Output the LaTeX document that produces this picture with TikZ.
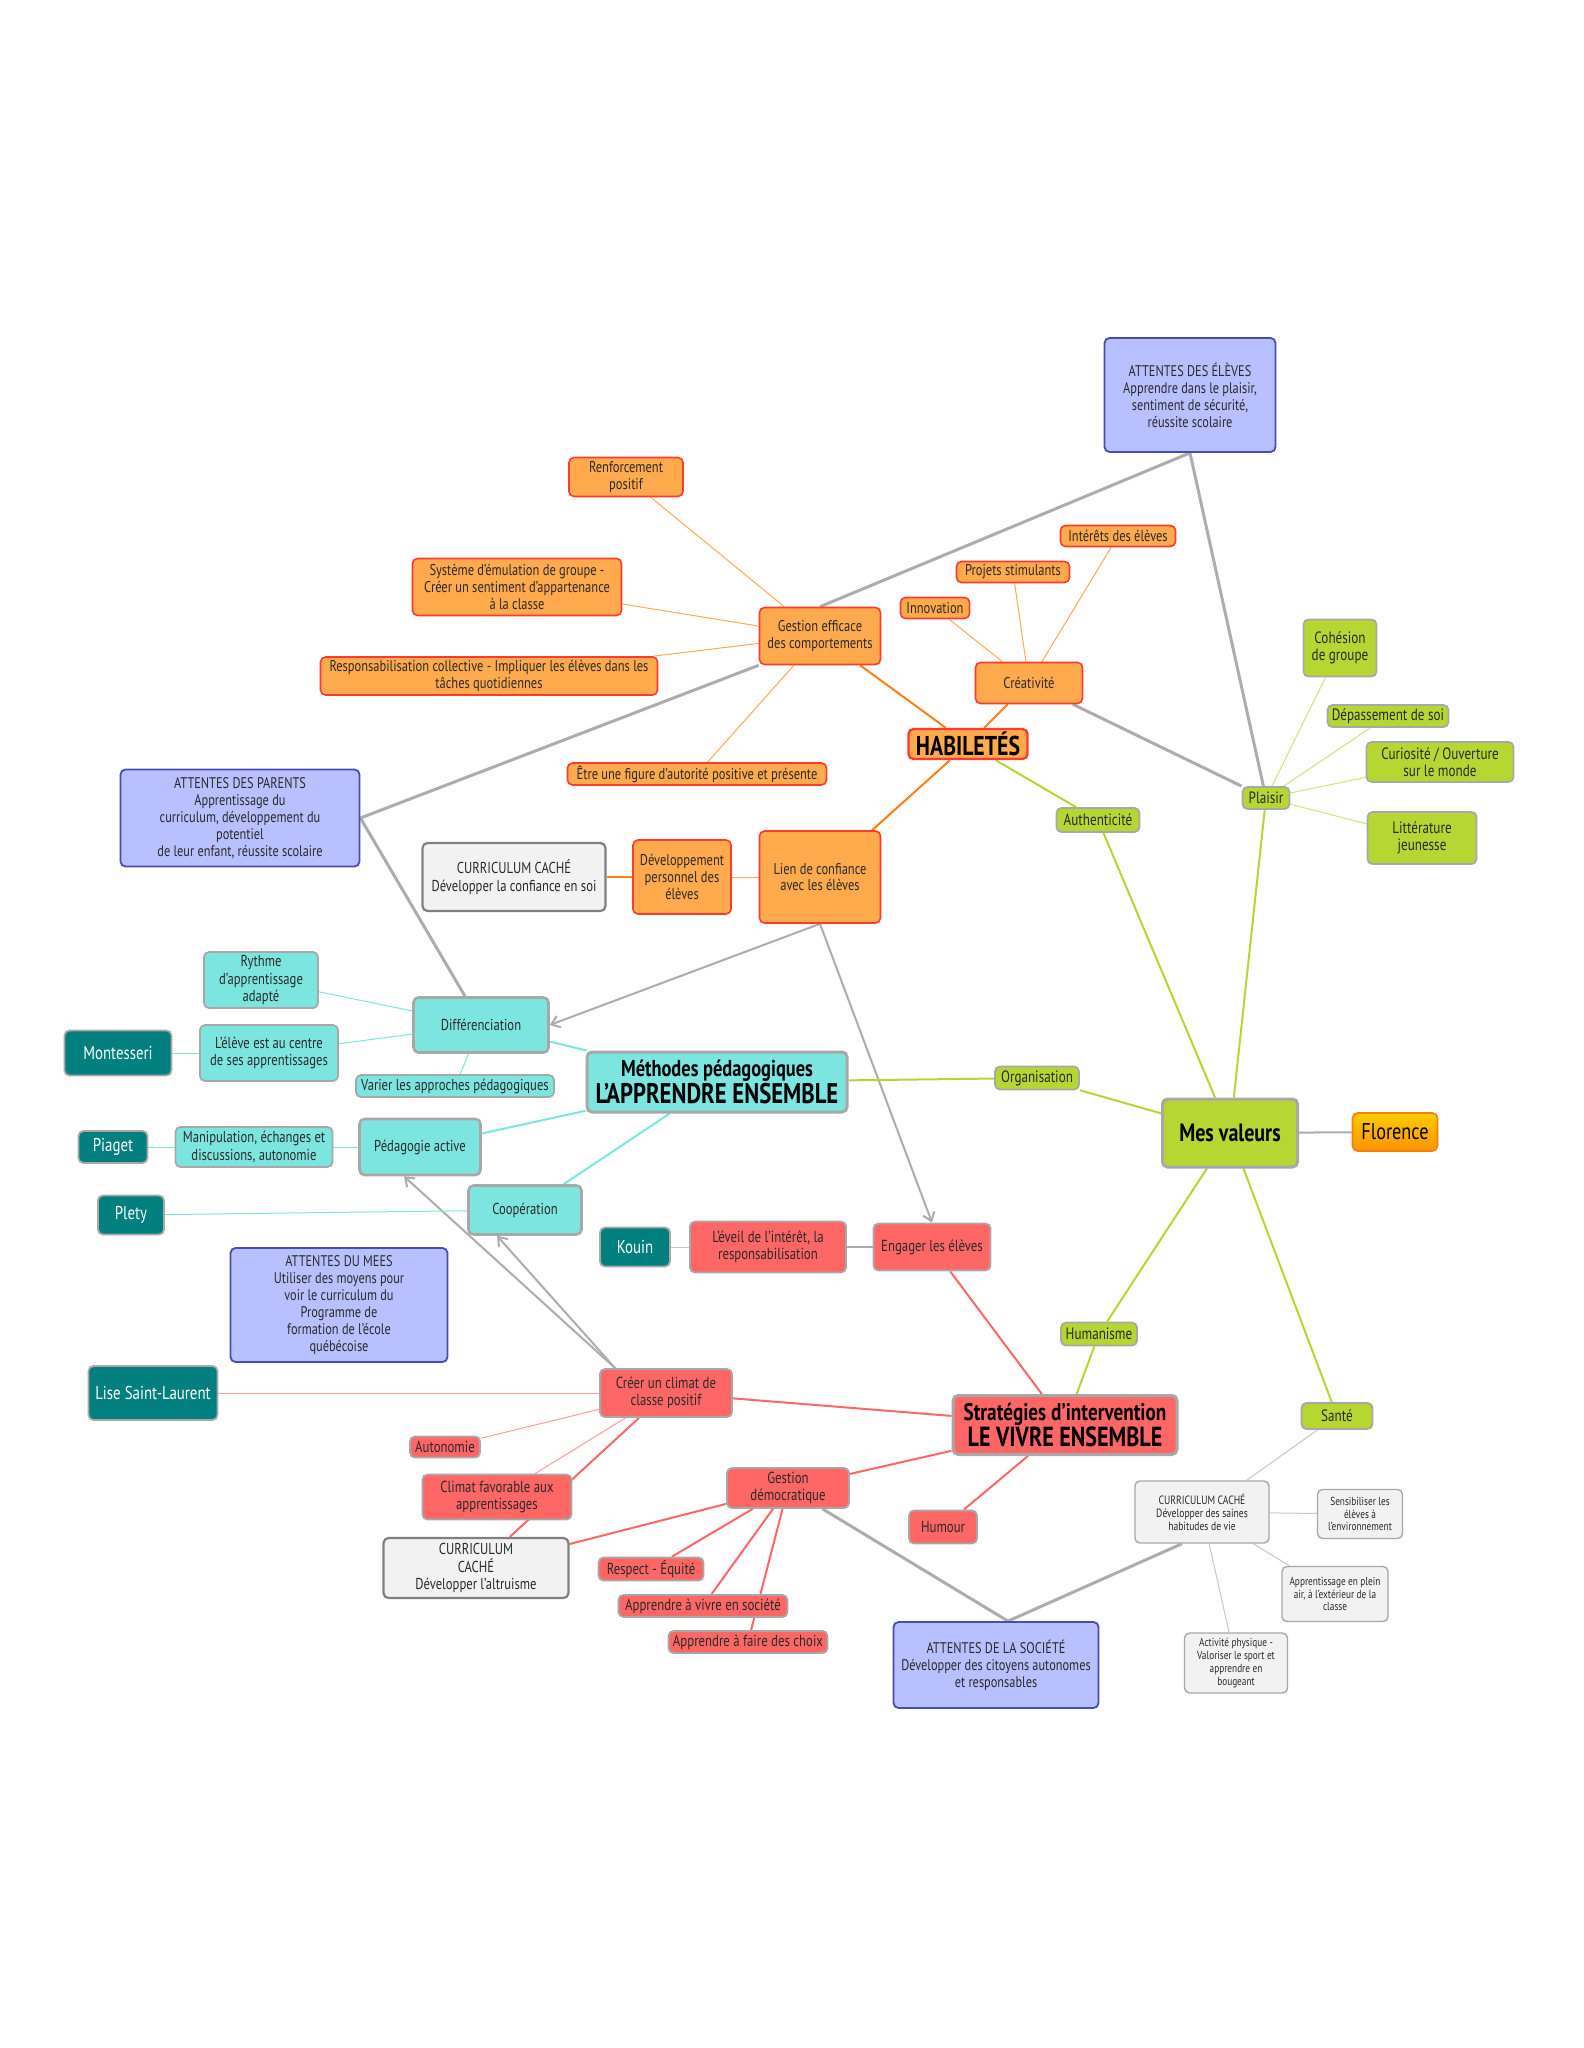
\documentclass[tikz,border=0pt]{standalone}
\usepackage{fontspec}
\setmainfont{PT Sans}[FakeStretch=0.8]
\usetikzlibrary{backgrounds,arrows.meta}
\definecolor{orfill}{HTML}{FFAA4D}
\definecolor{orline}{HTML}{FF3B30}
\definecolor{oredge}{HTML}{FF7F11}
\definecolor{orthin}{HTML}{FFAA55}
\definecolor{bfill}{HTML}{B8C0FF}
\definecolor{bline}{HTML}{4B4BB4}
\definecolor{gfill}{HTML}{B6D632}
\definecolor{gthin}{HTML}{CCE57A}
\definecolor{cfill}{HTML}{7DE5E0}
\definecolor{tfill}{HTML}{007F7F}
\definecolor{rfill}{HTML}{FF6666}
\definecolor{rthin}{HTML}{FF9C9C}
\definecolor{ccfill}{HTML}{F2F2F2}
\definecolor{bord}{HTML}{A8A8A8}
\definecolor{edge}{HTML}{ADADAD}
\definecolor{ink}{HTML}{2A2A2A}
\tikzstyle{box} = [rounded corners=2.5pt, align=center, inner sep=1pt, text=ink, font={\fontsize{7.8}{8.3}\selectfont}]
\tikzstyle{orn} = [box, draw=orline, fill=orfill, line width=0.8pt]
\tikzstyle{grn} = [box, draw=bord, fill=gfill, line width=0.9pt, font={\fontsize{8.2}{8.7}\selectfont}]
\tikzstyle{cyn} = [box, draw=bord, fill=cfill, line width=0.9pt, font={\fontsize{7.9}{8.6}\selectfont}]
\tikzstyle{rd} = [box, draw=bord, fill=rfill, line width=0.9pt, font={\fontsize{8}{8.6}\selectfont}]
\tikzstyle{tea} = [box, draw=bord, fill=tfill, line width=0.9pt, text=white, font={\fontsize{9.3}{10}\selectfont}]
\tikzstyle{blu} = [box, draw=bline, fill=bfill, line width=0.9pt, font={\fontsize{7.7}{8.5}\selectfont}]
\tikzstyle{hid} = [box, draw=gray, fill=ccfill, line width=1.1pt, font={\fontsize{7.9}{8.8}\selectfont}]
\tikzstyle{hidsm} = [box, draw=bord, fill=ccfill, line width=0.7pt, font={\fontsize{5.8}{6.4}\selectfont}]
\tikzstyle{big} = [line width=1.5pt, text=black, font={\bfseries\fontsize{11.5}{12}\selectfont}]
\tikzstyle{gline} = [draw=edge, line width=1.5pt]
\tikzstyle{gmid} = [draw=edge, line width=1pt]
\tikzstyle{gthinline} = [draw=edge!70, line width=0.5pt]
\tikzstyle{garrow} = [gmid, ->]
\tikzstyle{othick} = [draw=oredge, line width=1pt]
\tikzstyle{othin} = [draw=orthin, line width=0.5pt]
\tikzstyle{gr} = [draw=gfill, line width=1pt]
\tikzstyle{grthin} = [draw=gthin, line width=0.5pt]
\tikzstyle{cy} = [draw=cfill, line width=1pt]
\tikzstyle{cythin} = [draw=cfill, line width=0.5pt]
\tikzstyle{rdline} = [draw=rfill, line width=1pt]
\tikzstyle{rdthin} = [draw=rthin, line width=0.5pt]

\begin{document}
\begin{tikzpicture}[x=0.5pt, y=-0.5pt, >={Straight Barb[length=4pt,width=6pt]}]
    \useasboundingbox (0,0) rectangle (1583,2048);
    % HABILETES
    \node[orn,minimum width=57pt,minimum height=19.5pt](renf) at (626,477){Renforcement\\positif};
    \node[orn,minimum width=104.5pt,minimum height=28.5pt](syst) at (517,587){Système d’émulation de groupe -\\Créer un sentiment d’appartenance\\à la classe};
    \node[orn,minimum width=168.5pt,minimum height=19pt](resp) at (489,676){Responsabilisation collective - Impliquer les élèves dans les\\tâches quotidiennes};
    \node[orn,minimum width=60.5pt,minimum height=28.5pt](gest) at (820,636){Gestion efficace\\des comportements};
    \node[orn,minimum width=129.5pt,minimum height=11pt](etre) at (697,774){Être une figure d’autorité positive et présente};
    \node[orn,minimum width=34.5pt,minimum height=10.5pt](inno) at (935,608){Innovation};
    \node[orn,minimum width=56.5pt,minimum height=10.5pt](proj) at (1013,572){Projets stimulants};
    \node[orn,minimum width=57.5pt,minimum height=10.5pt](inte) at (1118,536){Intérêts des élèves};
    \node[orn,minimum width=53.5pt,minimum height=20.5pt](crea) at (1029,683){Créativité};
    \node[orn,big,line width=1.2pt,font={\bfseries\fontsize{13.6}{14}\selectfont},minimum width=59.5pt,minimum height=15pt](hab) at (968,744){HABILETÉS};
    \node[orn,minimum width=49pt,minimum height=37pt](dev) at (682,877){Développement\\personnel des\\élèves};
    \node[orn,minimum width=60.5pt,minimum height=46pt](lien) at (820,877){Lien de confiance\\avec les élèves};
    \node[hid,minimum width=91.5pt,minimum height=34pt](ccconf) at (514,877){CURRICULUM CACHÉ\\Développer la confiance en soi};
    % attentes
    \node[blu,minimum width=85.5pt,minimum height=57pt](aelev) at (1190,395){ATTENTES DES ÉLÈVES\\Apprendre dans le plaisir,\\sentiment de sécurité,\\réussite scolaire};
    \node[blu,minimum width=119.5pt,minimum height=48.5pt](apar) at (240,818){ATTENTES DES PARENTS\\Apprentissage du\\curriculum, développement du\\potentiel\\de leur enfant, réussite scolaire};
    \node[blu,minimum width=108.5pt,minimum height=57pt](amees) at (339,1305){ATTENTES DU MEES\\Utiliser des moyens pour\\voir le curriculum du\\Programme de\\formation de l’école\\québécoise};
    \node[blu,minimum width=102.5pt,minimum height=43pt](asoc) at (996,1665){ATTENTES DE LA SOCIÉTÉ\\Développer des citoyens autonomes\\et responsables};
    % valeurs
    \node[grn,minimum width=36.5pt,minimum height=28.5pt](cohe) at (1340,648){Cohésion\\de groupe};
    \node[grn,minimum width=60.5pt,minimum height=11pt](depa) at (1388,716){Dépassement de soi};
    \node[grn,minimum width=73.5pt,minimum height=20pt](curi) at (1440,762){Curiosité / Ouverture\\sur le monde};
    \node[grn,minimum width=23.5pt,minimum height=11pt](plai) at (1266,798){Plaisir};
    \node[grn,minimum width=54.5pt,minimum height=26pt](litt) at (1422,838){Littérature\\jeunesse};
    \node[grn,minimum width=41.5pt,minimum height=12pt](auth) at (1098,820){Authenticité};
    \node[grn,minimum width=42pt,minimum height=11.5pt](orga) at (1037,1078){Organisation};
    \node[grn,big,font={\bfseries\fontsize{12.5}{13}\selectfont},minimum width=67.5pt,minimum height=34pt](valeurs) at (1230,1133){Mes valeurs};
    \node[grn,minimum width=38pt,minimum height=11.5pt](huma) at (1099,1334){Humanisme};
    \node[grn,minimum width=35.5pt,minimum height=13pt](sante) at (1337,1416){Santé};
    \node[box,draw=orange!80!brown,top color=yellow!60!orange,bottom color=orange!85!yellow,line width=0.8pt,text=black,font={\fontsize{11.4}{12}\selectfont},minimum width=42.5pt,minimum height=19pt](flor) at (1395,1132){Florence};
    % methodes
    \node[cyn,big,minimum width=130pt,minimum height=30pt](meth) at (717,1082){Méthodes pédagogiques\\{\fontsize{14.2}{12}\selectfont L’APPRENDRE ENSEMBLE}};
    \node[cyn,line width=1.3pt,minimum width=67.5pt,minimum height=27.5pt](diff) at (481,1025){Différenciation};
    \node[cyn,minimum width=57pt,minimum height=28pt](ryth) at (261,980){Rythme\\d’apprentissage\\adapté};
    \node[cyn,minimum width=69pt,minimum height=28pt](centre) at (269,1053){L’élève est au centre\\de ses apprentissages};
    \node[cyn,minimum width=99pt,minimum height=11pt](vari) at (455,1086){Varier les approches pédagogiques};
    \node[cyn,minimum width=78.5pt,minimum height=20pt](manip) at (254,1147){Manipulation, échanges et\\discussions, autonomie};
    \node[cyn,line width=1.3pt,minimum width=60.5pt,minimum height=28pt](ped) at (420,1147){Pédagogie active};
    \node[cyn,line width=1.3pt,minimum width=56.5pt,minimum height=24.5pt](coop) at (525,1210){Coopération};
    \node[tea,minimum width=53.5pt,minimum height=22.5pt](mont) at (118,1053){Montesseri};
    \node[tea,minimum width=34.5pt,minimum height=16pt](piag) at (113,1147){Piaget};
    \node[tea,minimum width=33pt,minimum height=19.5pt](plet) at (131,1215){Plety};
    % strategies
    \node[tea,minimum width=35pt,minimum height=19.5pt](kouin) at (635,1247){Kouin};
    \node[tea,minimum width=64.5pt,minimum height=27pt](lise) at (153,1393){Lise Saint-Laurent};
    \node[rd,minimum width=78pt,minimum height=25.5pt](eveil) at (768,1247){L’éveil de l’intérêt, la\\responsabilisation};
    \node[rd,minimum width=58.5pt,minimum height=23.5pt](eng) at (932,1247){Engager les élèves};
    \node[rd,minimum width=66pt,minimum height=24pt](clim) at (666,1393){Créer un climat de\\classe positif};
    \node[rd,big,font={\bfseries\fontsize{12}{12}\selectfont},minimum width=112pt,minimum height=29.5pt](strat) at (1065,1425){Stratégies d’intervention\\{\fontsize{13.8}{12}\selectfont LE VIVRE ENSEMBLE}};
    \node[rd,minimum width=61pt,minimum height=20pt](gdem) at (788,1488){Gestion\\démocratique};
    \node[rd,minimum width=34pt,minimum height=16.5pt](hum) at (943,1527){Humour};
    \node[rd,minimum width=35pt,minimum height=10.5pt](auto) at (445,1447){Autonomie};
    \node[rd,minimum width=74.5pt,minimum height=22.5pt](climf) at (497,1497){Climat favorable aux\\apprentissages};
    \node[rd,minimum width=52.5pt,minimum height=11.5pt](equi) at (651,1569){Respect - Équité};
    \node[rd,minimum width=84.5pt,minimum height=11pt](vivre) at (703,1606){Apprendre à vivre en société};
    \node[rd,minimum width=79.5pt,minimum height=11pt](choix) at (748,1642){Apprendre à faire des choix};
    \node[hid,minimum width=92.5pt,minimum height=30pt](ccalt) at (476,1568){CURRICULUM\\CACHÉ\\Développer l’altruisme};
    \node[hidsm,font={\fontsize{6}{6.5}\selectfont},minimum width=67pt,minimum height=31pt](ccsain) at (1202,1512){CURRICULUM CACHÉ\\Développer des saines\\habitudes de vie};
    \node[hidsm,minimum width=42.5pt,minimum height=24.5pt](sens) at (1360,1514){Sensibiliser les\\élèves à\\l’environnement};
    \node[hidsm,minimum width=53pt,minimum height=27.5pt](plein) at (1335,1594){Apprentissage en plein\\air, à l’extérieur de la\\classe};
    \node[hidsm,minimum width=51.5pt,minimum height=30pt](acti) at (1236,1663){Activité physique -\\Valoriser le sport et\\apprendre en\\bougeant};
    \begin{scope}[on background layer]
    % gris
    \draw[gline](aelev.south)--(gest.north);
    \draw[gline](aelev.south)--(plai);
    \draw[gline](crea)--(plai);
    \draw[gline](apar.east)--(gest.south west);
    \draw[gline](apar.east)--([xshift=-8pt]diff.north);
    \draw[garrow](lien.south)--(diff.east);
    \draw[garrow](lien.south)--(eng.north);
    \draw[garrow]([xshift=8pt]clim.north west)--([xshift=-8pt]ped.south);
    \draw[garrow]([xshift=8pt]clim.north west)--([xshift=-14pt]coop.south);
    \draw[gline](gdem)--([xshift=6pt]asoc.north);
    \draw[gline]([xshift=-10pt]ccsain.south)--([xshift=6pt]asoc.north);
    \draw[gthinline](sante)--(ccsain);
    \draw[gthinline](ccsain)--(sens);
    \draw[gthinline](ccsain)--(plein);
    \draw[gthinline](ccsain)--(acti);
    \draw[gthinline](kouin)--(eveil);
    \draw[gmid](eveil)--(eng);
    \draw[gmid](valeurs)--(flor);
    % orange
    \draw[othick](hab)--(gest);
    \draw[othick](hab)--(crea);
    \draw[othick](hab)--(lien);
    \draw[othick](dev)--(ccconf);
    \draw[othin](lien)--(dev);
    \draw[othin](gest)--(renf);
    \draw[othin](gest)--(syst);
    \draw[othin](gest)--(resp);
    \draw[othin](gest)--(etre);
    \draw[othin](crea)--(inno);
    \draw[othin](crea)--(proj);
    \draw[othin](crea)--(inte);
    % vert
    \draw[gr](hab)--(auth);
    \draw[gr](auth)--(valeurs);
    \draw[gr](plai)--(valeurs);
    \draw[gr](orga)--(valeurs);
    \draw[gr](meth)--(orga);
    \draw[gr](valeurs)--(huma);
    \draw[gr](huma)--(strat);
    \draw[gr](valeurs)--(sante);
    \draw[grthin](plai)--(cohe);
    \draw[grthin](plai)--(depa);
    \draw[grthin](plai)--(curi);
    \draw[grthin](plai)--(litt);
    % cyan
    \draw[cy](meth)--(diff);
    \draw[cy](meth)--(ped);
    \draw[cy](meth)--(coop);
    \draw[cythin](diff)--(ryth);
    \draw[cythin](diff)--(centre);
    \draw[cythin](diff)--(vari);
    \draw[cythin](centre)--(mont);
    \draw[cythin](ped)--(manip);
    \draw[cythin](manip)--(piag);
    \draw[cythin](coop)--(plet);
    % rouge
    \draw[rdline](strat)--(eng);
    \draw[rdline](strat)--(clim);
    \draw[rdline](strat)--(gdem);
    \draw[rdline](strat)--(hum);
    \draw[rdthin](clim)--(lise);
    \draw[rdthin](clim)--(auto);
    \draw[rdthin](clim)--(climf);
    \draw[rdline](clim)--(ccalt);
    \draw[rdline](gdem)--(ccalt);
    \draw[rdline](gdem)--(equi);
    \draw[rdline](gdem)--(vivre);
    \draw[rdline](gdem)--(choix);
    \end{scope}
\end{tikzpicture}
\end{document}
